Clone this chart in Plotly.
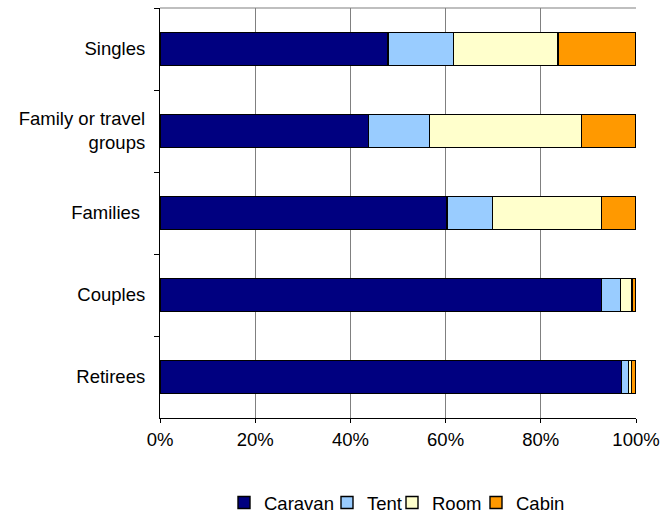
import plotly.graph_objects as go

# Share of accommodation type by traveller group (percent of each group)
groups = ["Singles", "Family or travel<br>\u00a0\u00a0\u00a0\u00a0\u00a0\u00a0\u00a0\u00a0groups", "Families\u00a0", "Couples", "Retirees"]
caravan = [47.9, 43.8, 60.3, 92.7, 96.9]
tent = [13.7, 12.8, 9.6, 4.1, 1.5]
room = [22.0, 32.0, 22.8, 2.4, 0.7]
cabin = [16.4, 11.4, 7.3, 0.8, 0.9]

series = [
    ("Caravan", caravan, "#000080"),
    ("Tent", tent, "#99CCFF"),
    ("Room", room, "#FFFFCC"),
    ("Cabin", cabin, "#FF9900"),
]

W, H = 661, 518
ML, MR, MT, MB = 160, 25, 8, 100
PW, PH = W - ML - MR, H - MT - MB

# left pixel position of each legend entry along the bottom row
legend_x = [224, 327, 392, 476]
legend_names = ["legend", "legend2", "legend3", "legend4"]

font = "Liberation Sans, Arial, sans-serif"

fig = go.Figure()
for (name, vals, color), lg in zip(series, legend_names):
    fig.add_trace(go.Bar(
        y=groups, x=vals, name=name, orientation="h", legend=lg,
        showlegend=True,
        marker=dict(color=color, line=dict(color="#000000", width=1.4)),
    ))

legend_layout = {}
for lg, px in zip(legend_names, legend_x):
    legend_layout[lg] = dict(
        x=(px - ML) / PW, xanchor="left",
        y=-(503 - (MT + PH)) / PH, yanchor="middle",
        orientation="h",
        font=dict(size=18.5), itemwidth=30, bgcolor="rgba(0,0,0,0)",
    )

fig.update_layout(
    barmode="stack",
    bargap=0.6,
    showlegend=True,
    width=W, height=H,
    margin=dict(l=ML, r=MR, t=MT, b=MB, autoexpand=False),
    paper_bgcolor="white", plot_bgcolor="white",
    font=dict(family=font, size=18.5, color="#000000"),
    xaxis=dict(
        range=[0, 100], tickvals=[0, 20, 40, 60, 80, 100],
        ticktext=["0%", "20%", "40%", "60%", "80%", "100%"],
        tickangle=0,
        showgrid=True, gridcolor="#808080", gridwidth=1,
        showline=True, linecolor="#000000", linewidth=1.2,
        ticks="outside", ticklen=4, tickcolor="#000000",
        ticklabelstandoff=1,
        zeroline=False, fixedrange=True,
    ),
    yaxis=dict(
        categoryorder="array", categoryarray=groups,
        autorange="reversed",
        showline=True, linecolor="#000000", linewidth=1.2,
        ticks="outside", ticklen=5, tickcolor="#000000", tickson="boundaries",
        ticklabelstandoff=10,
        showgrid=False,
    ),
    shapes=[
        # top border of the plotting area
        dict(type="line", xref="paper", yref="paper", x0=0, x1=1, y0=1, y1=1,
             line=dict(color="#808080", width=1.2)),
    ],
    **legend_layout,
)

fig.write_html("out.html")
